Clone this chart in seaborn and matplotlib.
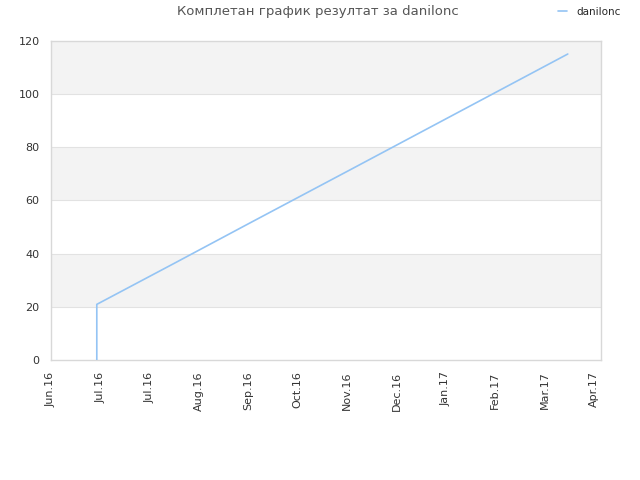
import pandas as pd
import seaborn as sns
import matplotlib.pyplot as plt
import matplotlib.dates as mdates

# cumulative score points
dates = ["2016-06-29", "2016-06-29", "2016-08-15", "2016-10-01", "2016-12-01", "2017-02-01", "2017-04-11"]
scores = [0, 21, 36.4, 51.9, 71.9, 92.3, 115]
player = "danilonc"

tick_dates = pd.date_range("2016-06-01", periods=12, freq="30D")
y_ticks = [0, 20, 40, 60, 80, 100, 120]

df = pd.DataFrame({"date": pd.to_datetime(dates), "score": scores, "player": player})

sns.set_style("white")
fig = plt.figure(figsize=(6.4, 4.8), dpi=100)
ax = fig.add_axes([0.0792, 0.2494, 0.8594, 0.6658])

# alternating grey bands
for lo, hi in zip(y_ticks[:-1], y_ticks[1:]):
    if (lo // 20) % 2 == 1:
        ax.axhspan(lo, hi, facecolor="#f3f3f3", zorder=0, lw=0)
for y in y_ticks[1:-1]:
    ax.axhline(y, color="#e2e2e2", lw=0.8, zorder=1)

sns.lineplot(data=df, x="date", y="score", hue="player", palette=["#94c4f4"],
             lw=1.2, ax=ax, legend=False, zorder=3, estimator=None, sort=False)

ax.set_xlim(pd.Timestamp("2016-06-01"), pd.Timestamp("2017-05-01"))
ax.set_ylim(0, 120)
ax.set_xticks(tick_dates)
ax.xaxis.set_major_formatter(mdates.DateFormatter("%b.%y"))
ax.set_yticks(y_ticks)
ax.tick_params(axis="x", rotation=90, labelsize=8, colors="#333333", length=0, pad=8)
ax.tick_params(axis="y", labelsize=8, colors="#333333", length=0, pad=8)
ax.set_xlabel("")
ax.set_ylabel("")
for s in ax.spines.values():
    s.set_color("#d8d8d8")
    s.set_linewidth(1)

fig.text(0.497, 0.975, "Комплетан график резултат за danilonc", ha="center", va="center",
         fontsize=9.5, color="#555555")
fig.legend(handles=[plt.Line2D([], [], color="#94c4f4", lw=1.2)], labels=[player],
           loc="center right", bbox_to_anchor=(0.985, 0.975), frameon=False,
           handlelength=0.9, handletextpad=0.9, fontsize=7.5)

fig.savefig("out.png", dpi=100)
